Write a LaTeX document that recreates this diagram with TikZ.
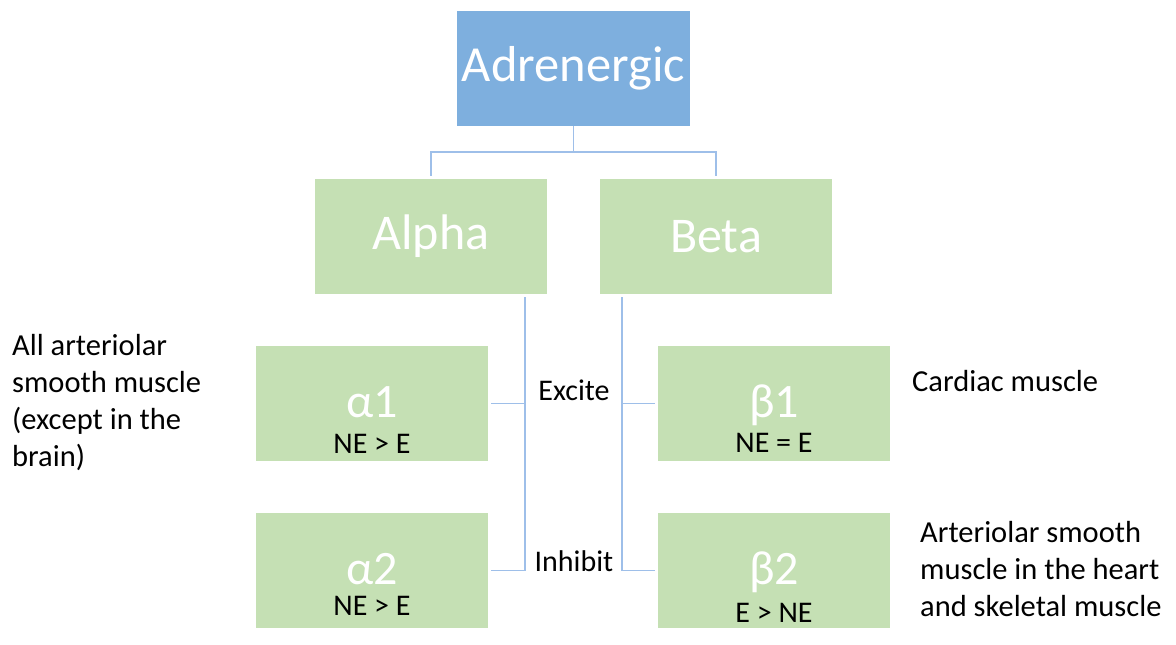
\documentclass[tikz,border=0pt]{standalone}
\usepackage{fontspec}
\setmainfont{Carlito}
\definecolor{hdblue}{HTML}{7EAFDE}
\definecolor{boxgreen}{HTML}{C5E0B4}
\definecolor{linkblue}{HTML}{9EBFE9}
\tikzset{
	topbox/.style = {fill=hdblue, minimum width=233, minimum height=115, inner sep=0, text=white, font=\fontsize{50.5}{60}\selectfont},
	grpbox/.style = {fill=boxgreen, minimum width=232, minimum height=115, inner sep=0, text=white, font=\fontsize{50}{60}\selectfont},
	greek/.style = {inner sep=0, text=white, font=\fontsize{48}{56}\selectfont},
	ratio/.style = {inner sep=0, font=\fontsize{30}{35}\selectfont},
	note/.style = {inner sep=0, align=left, font=\fontsize{30.5}{37}\selectfont},
	link/.style = {draw=linkblue, line width=1.6pt}
}
\begin{document}
\begin{tikzpicture}[x = 1pt, y = -1pt]
	\useasboundingbox (0,0) rectangle (1176,645);
	\node[topbox] (adr) at (573.5,68.5) {Adrenergic}; %top
	\node[grpbox] (alpha) at (431,236.5) {Alpha};
	\node[grpbox] (beta) at (716,236.5) {Beta};
	\node[grpbox] (a1) at (372,403.5) {}; %alpha 1
	\node[grpbox] (a2) at (372,570.5) {}; %alpha 2
	\node[grpbox] (b1) at (774,403.5) {}; %beta 1
	\node[grpbox] (b2) at (774,570.5) {}; %beta 2
	\node[greek, anchor=base] (a1g) at (372,417) {α1};
	\node[greek, anchor=base] (a2g) at (372,584) {α2};
	\node[greek, anchor=base] (b1g) at (774,417) {β1};
	\node[greek, anchor=base] (b2g) at (774,584) {β2};
	\node[ratio, anchor=base] (a1r) at (372,453) {NE > E};
	\node[ratio, anchor=base] (a2r) at (372,615) {NE > E};
	\node[ratio, anchor=base] (b1r) at (774,452) {NE = E};
	\node[ratio, anchor=base] (b2r) at (774,622) {E > NE};
	\draw[link, shorten >= 3pt] (adr.south) -- ++(0,26) -| (alpha.north);
	\draw[link, shorten >= 3pt] (adr.south) -- ++(0,26) -| (beta.north);
	\coordinate (atrunk) at ([xshift=-22pt, yshift=-3pt]alpha.south east);
	\coordinate (btrunk) at ([xshift=22pt, yshift=-3pt]beta.south west);
	\draw[link] (atrunk) |- ([xshift=3pt]a1.east);
	\draw[link] (atrunk) |- ([xshift=3pt]a2.east);
	\draw[link] (btrunk) |- ([xshift=-3pt]b1.west);
	\draw[link] (btrunk) |- ([xshift=-3pt]b2.west);
	\node[ratio] (excite) at (574,390) {Excite};
	\node[ratio] (inhibit) at (574,561) {Inhibit};
	\node[note, anchor=north west] (anote) at (12,334) {All arteriolar\\smooth muscle\\(except in the\\brain)};
	\node[note, anchor=base west] (bnote1) at (912,391) {Cardiac muscle};
	\node[note, anchor=north west] (bnote2) at (920,521) {Arteriolar smooth\\muscle in the heart\\and skeletal muscle};
\end{tikzpicture}
\end{document}
